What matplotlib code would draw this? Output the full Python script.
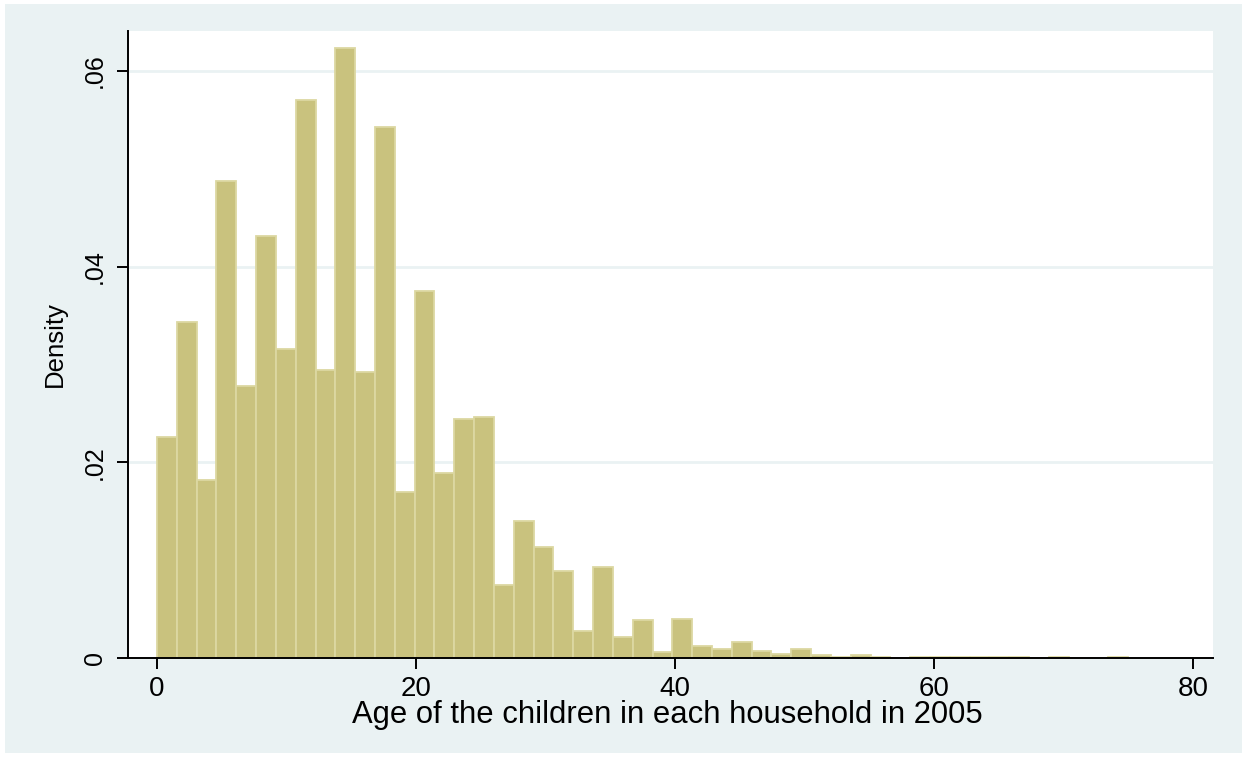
import numpy as np
import matplotlib
matplotlib.use("Agg")
import matplotlib.pyplot as plt

# Histogram of child ages: 49 equal-width bins spanning 0 to 75 years
bin_start = 0.0
bin_end = 75.0
density = [
    0.0226, 0.0343, 0.0182, 0.0488, 0.0278, 0.0431, 0.0316, 0.0570, 0.0294, 0.0623,
    0.0292, 0.0543, 0.0170, 0.0375, 0.0189, 0.0244, 0.0246, 0.0075, 0.0140, 0.0113,
    0.0089, 0.0028, 0.0093, 0.0021, 0.0039, 0.00065, 0.0040, 0.0012, 0.0009, 0.0016,
    0.0007, 0.00045, 0.0009, 0.0003, 0.00013, 0.0003, 0.0001, 0.0, 0.0001, 0.0001,
    0.0001, 0.0001, 0.0001, 0.0001, 0.0, 0.0001, 0.0, 0.0, 0.0001,
]
x_ticks = [0, 20, 40, 60, 80]
y_ticks = [0, 0.02, 0.04, 0.06]
y_tick_labels = ["0", ".02", ".04", ".06"]
x_title = "Age of the children in each household in 2005"
y_title = "Density"

panel_color = "#EAF2F3"
bar_fill = "#C9C27E"
bar_edge = "#DCD8A2"

plt.rcParams["font.family"] = ["Liberation Sans", "DejaVu Sans"]

W, H = 1245, 757
fig = plt.figure(figsize=(W / 100, H / 100), dpi=100)
fig.patch.set_facecolor("white")

# outer graph region
bg = fig.add_axes([5 / W, 1 - 753 / H, (1242 - 5) / W, (753 - 4) / H], zorder=-10)
bg.set_facecolor(panel_color)
bg.set_xticks([])
bg.set_yticks([])
for s in bg.spines.values():
    s.set_visible(False)

left, right, top, bottom = 128, 1213, 31, 658
ax = fig.add_axes([left / W, 1 - bottom / H, (right - left) / W, (bottom - top) / H])
ax.set_facecolor("white")

n_bins = len(density)
edges = np.linspace(bin_start, bin_end, n_bins + 1)
width = edges[1] - edges[0]
ax.bar(edges[:-1], density, width=width, align="edge", color=bar_fill,
       edgecolor=bar_edge, linewidth=1.3, zorder=3)

px_per_unit = (1193 - 157) / 80.0
ax.set_xlim((left - 157) / px_per_unit, (right - 157) / px_per_unit)
ax.set_ylim(0, 0.06 * (bottom - top) / (bottom - 71))

for yv in y_ticks[1:]:
    ax.axhline(yv, color=panel_color, linewidth=2.0, zorder=1)

for side in ("top", "right"):
    ax.spines[side].set_visible(False)
for side in ("left", "bottom"):
    ax.spines[side].set_linewidth(1.4)
    ax.spines[side].set_color("black")
    ax.spines[side].set_zorder(5)

ax.set_xticks(x_ticks)
ax.set_xticklabels([str(v) for v in x_ticks])
ax.set_yticks(y_ticks)
ax.set_yticklabels(y_tick_labels, rotation=90, va="center")
ax.tick_params(axis="both", direction="out", length=8, width=1.4, color="black")
ax.tick_params(axis="x", pad=5, labelsize=20)
ax.tick_params(axis="y", pad=7, labelsize=18)

ax.set_xlabel(x_title, fontsize=22.3, va="center")
ax.xaxis.set_label_coords(0.497, (bottom - 715) / (bottom - top))
ax.set_ylabel(y_title, fontsize=18.5, va="center", ha="center")
ax.yaxis.set_label_coords((55 - left) / (right - left), (bottom - 344) / (bottom - top))

fig.savefig("out.png", dpi=100, facecolor=fig.get_facecolor())
